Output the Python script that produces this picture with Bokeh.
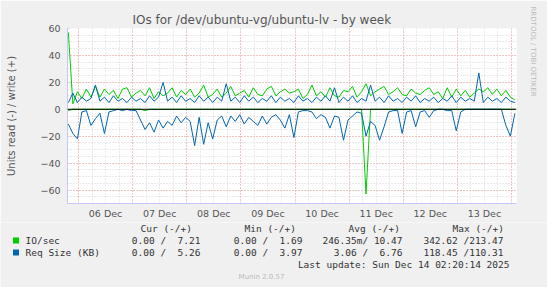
import pandas as pd
from bokeh.plotting import figure
from bokeh.layouts import column
from bokeh.models import FixedTicker, DatetimeTickFormatter, Span, ColumnDataSource, Range1d, Title
from bokeh.core.properties import value
from bokeh.embed import file_html
from bokeh.resources import INLINE

# ---------------- data ----------------
start = "2025-12-05 19:30"      # first sample, 2-hour steps
n_points = 100

io_write = [57, 4, 13, 8, 15, 9, 17, 9, 15, 11, 14, 8, 15, 16, 9, 12,
            14, 10, 16, 8, 13, 10, 12, 16, 9, 14, 11, 15, 9, 12, 18, 9, 11,
            15, 9, 12, 17, 10, 12, 14, 9, 16, 11, 10, 15, 17, 10, 13, 15, 12,
            13, 15, 8, 11, 18, 10, 13, 9, 16, 10, 9, 14, 13, 17, 9, 13,
            19, 10, 13, 15, 17, 11, 13, 16, 11, 10, 15, 12, 11, 14, 16, 11,
            13, 8, 16, 9, 15, 10, 14, 9, 12, 15, 13, 16, 11, 15, 10, 14, 9, 7]

io_read = [1, 0, 0, 0, 0, 0, 0, 0, 0, 0, 0, 0, 0, 0, 0, 0,
           0, 1, 0, 0, 0, 0, 0, 0, 0, 0, 0, 0, 0, 0, 0, 0, 0,
           0, 0, 0, 0, 0, 0, 0, 0, 0, 0, 0, 0, 0, 0, 0, 0, 0,
           0, 0, 0, 0, 0, 0, 0, 0, 0, 0, 0, 0, 0, 0, 0, 0,
           63, 0, 0, 0, 0, 0, 0, 0, 0, 0, 0, 0, 0, 0, 0, 0,
           0, 0, 0, 0, 0, 0, 0, 0, 0, 0, 0, 0, 0, 0, 0, 0, 0, 0]

req_write = [5, 12, 5, 9, 6, 8, 18, 6, 9, 5, 10, 6, 8, 5, 9, 6,
             8, 5, 10, 6, 9, 20, 6, 9, 5, 10, 6, 8, 5, 10, 6, 9, 5,
             9, 6, 19, 6, 9, 5, 10, 6, 9, 5, 8, 6, 10, 5, 9, 6, 8,
             5, 10, 6, 8, 5, 9, 6, 10, 6, 16, 5, 9, 6, 10, 5, 8,
             6, 18, 6, 9, 5, 10, 6, 8, 5, 9, 6, 10, 5, 8, 6, 9,
             5, 8, 6, 10, 5, 9, 6, 8, 6, 27, 5, 9, 6, 8, 5, 9, 6, 5]

req_read = [11, 18, 22, 2, 1, 12, 7, 3, 18, 2, 1, 0, 1, 0, 1, 1,
            8, 15, 10, 17, 8, 14, 9, 12, 5, 10, 6, 9, 27, 6, 26, 10, 22,
            8, 5, 13, 5, 9, 4, 11, 6, 9, 12, 5, 11, 6, 4, 8, 14, 4,
            21, 2, 1, 1, 2, 7, 4, 6, 14, 5, 6, 23, 8, 5, 2, 3,
            20, 9, 12, 23, 13, 2, 1, 1, 18, 2, 1, 13, 2, 1, 6, 1,
            0, 0, 1, 1, 16, 2, 0, 0, 0, 0, 0, 0, 0, 0, 0, 12, 20, 3]

day_label_days = ["2025-12-06", "2025-12-07", "2025-12-08", "2025-12-09",
                  "2025-12-10", "2025-12-11", "2025-12-12", "2025-12-13"]
y_major = [-60, -40, -20, 0, 20, 40, 60]

series_names = ["IO/sec", "Req Size (KB)"]
series_colors = ["#00CC00", "#0066B3"]
col_headers = ["Cur (-/+)", "Min (-/+)", "Avg (-/+)", "Max (-/+)"]
cur_vals = ["0.00 /  7.21", "0.00 /  5.26"]
min_vals = ["0.00 /  1.69", "0.00 /  3.97"]
avg_vals = ["246.35m/ 10.47", "3.06 /  6.76"]
max_vals = ["342.62 /213.47", "118.45 /110.31"]
last_update = "Last update: Sun Dec 14 02:20:14 2025"
munin_version = "Munin 2.0.57"

# ---------------- layout constants ----------------
W = 547
MAIN_H = 222
LEG_H = 287 - MAIN_H
FL, FR, FT, FB = 67, 516, 28, 203
BG = "#F0F0F0"
MONO = "DejaVu Sans Mono"
SANS = "DejaVu Sans"
TXT = "#333333"


def keep_spaces(s):
    return s.replace(" ", "\u00a0")


times = pd.date_range(start, periods=n_points, freq="2h")
src = ColumnDataSource(dict(
    t=times,
    io_w=io_write, io_r=[-v for v in io_read],
    rq_w=req_write, rq_r=[-v for v in req_read],
))

p = figure(width=W, height=MAIN_H, x_axis_type="datetime",
           x_range=Range1d(pd.Timestamp("2025-12-05 19:07"), pd.Timestamp("2025-12-14 02:13")),
           y_range=Range1d(-70, 60),
           output_backend="svg", toolbar_location=None,
           min_border_left=FL, min_border_right=W - FR,
           min_border_top=FT, min_border_bottom=MAIN_H - FB,
           background_fill_color="white", border_fill_color=BG,
           outline_line_color=None)
p.frame_align = False

p.title.text = "IOs for /dev/ubuntu-vg/ubuntu-lv - by week"
p.title.align = "left"
p.title.offset = 132 - FL
p.title.text_font = SANS
p.title.text_font_size = "12px"
p.title.text_font_style = "normal"
p.title.text_color = "#555555"
p.title.standoff = 3

p.add_layout(Title(text="RRDTOOL / TOBI OETIKER", align="left", offset=-22,
                   vertical_align="top",
                   text_font=SANS, text_font_size="7px", text_font_style="normal",
                   text_color="#BBBBBB", standoff=20), "right")

# grids
mid = [pd.Timestamp(d).value // 10**6 for d in day_label_days] + [pd.Timestamp("2025-12-14").value // 10**6]
six = [pd.Timestamp("2025-12-05 18:00").value // 10**6 + k * 6 * 3600 * 1000 for k in range(34)]
p.xgrid.ticker = FixedTicker(ticks=mid, minor_ticks=six)
p.ygrid.ticker = FixedTicker(ticks=y_major, minor_ticks=list(range(-70, 61, 5)))
for g in (p.xgrid, p.ygrid):
    g.grid_line_color = "#F2A0A0"
    g.grid_line_dash = "1 2"
    g.grid_line_width = 1
    g.minor_grid_line_color = "#D4D4D4"
    g.minor_grid_line_dash = "1 2"

# axes
noon = [pd.Timestamp(d + " 12:00").value // 10**6 for d in day_label_days]
p.xaxis.ticker = FixedTicker(ticks=noon)
p.xaxis.formatter = DatetimeTickFormatter(days="%d %b", hours="%d %b", hourmin="%d %b",
                                          months="%d %b", minutes="%d %b")
p.yaxis.ticker = FixedTicker(ticks=y_major)
for ax in (p.xaxis, p.yaxis):
    ax.axis_line_color = "#C8C8F8"
    ax.major_label_text_font = SANS
    ax.major_label_text_font_size = "9.5px"
    ax.major_label_text_color = "#555555"
    ax.major_tick_line_color = "#C8C8F8"
    ax.minor_tick_line_color = None
    ax.major_tick_in = 2
    ax.major_tick_out = 0
p.xaxis.major_tick_line_color = None
p.xaxis.major_label_standoff = 4
p.yaxis.major_label_standoff = 7
p.yaxis.axis_label = "Units read (-) / write (+)"
p.yaxis.axis_label_text_font = SANS
p.yaxis.axis_label_text_font_size = "10px"
p.yaxis.axis_label_text_font_style = "normal"
p.yaxis.axis_label_text_color = "#555555"
p.yaxis.axis_label_standoff = 20

# lines
p.line("t", "io_w", source=src, line_color=series_colors[0], line_width=1)
p.line("t", "io_r", source=src, line_color=series_colors[0], line_width=1)
p.line("t", "rq_w", source=src, line_color=series_colors[1], line_width=1)
p.line("t", "rq_r", source=src, line_color=series_colors[1], line_width=1)
p.add_layout(Span(location=0, dimension="width", line_color="black", line_width=1))

# ---------------- legend panel (canvas pixel coordinates) ----------------
leg = figure(width=W, height=LEG_H, x_range=Range1d(0, W), y_range=Range1d(287, MAIN_H),
             output_backend="svg", toolbar_location=None,
             x_axis_location=None, y_axis_location=None,
             min_border=0, min_border_left=0, min_border_right=0,
             min_border_top=0, min_border_bottom=0,
             background_fill_color=BG, border_fill_color=BG, outline_line_color=None)
leg.frame_align = False
leg.grid.visible = False

hdr_x = [140, 244, 348, 452]
row_y = [240, 252]
leg.text(x=hdr_x, y=[228] * 4, text=[keep_spaces(s) for s in col_headers], text_font=value(MONO),
         text_font_size="9.5px", text_color=TXT, text_baseline="middle", text_align="left")
leg.scatter(x=[15.5, 15.5], y=row_y, marker="square", size=6, color=series_colors, line_width=0)
leg.text(x=[25, 25], y=row_y, text=[keep_spaces(s) for s in series_names], text_font=value(MONO),
         text_font_size="9.5px", text_color=TXT, text_baseline="middle", text_align="left")
for right_x, vals in zip([200, 302, 402, 503], [cur_vals, min_vals, avg_vals, max_vals]):
    leg.text(x=[right_x, right_x], y=row_y, text=[keep_spaces(s) for s in vals],
             text_font=value(MONO), text_font_size="9.5px", text_color=TXT,
             text_baseline="middle", text_align="right")
leg.text(x=[509], y=[264], text=[keep_spaces(last_update)], text_font=value(MONO),
         text_font_size="9.5px", text_color=TXT, text_baseline="middle", text_align="right")
leg.text(x=[261], y=[276], text=[munin_version], text_font=value(SANS),
         text_font_size="7px", text_color="#BBBBBB", text_baseline="middle", text_align="center")

layout = column(p, leg, spacing=0)
open("out.html", "w").write(file_html(layout, INLINE))
